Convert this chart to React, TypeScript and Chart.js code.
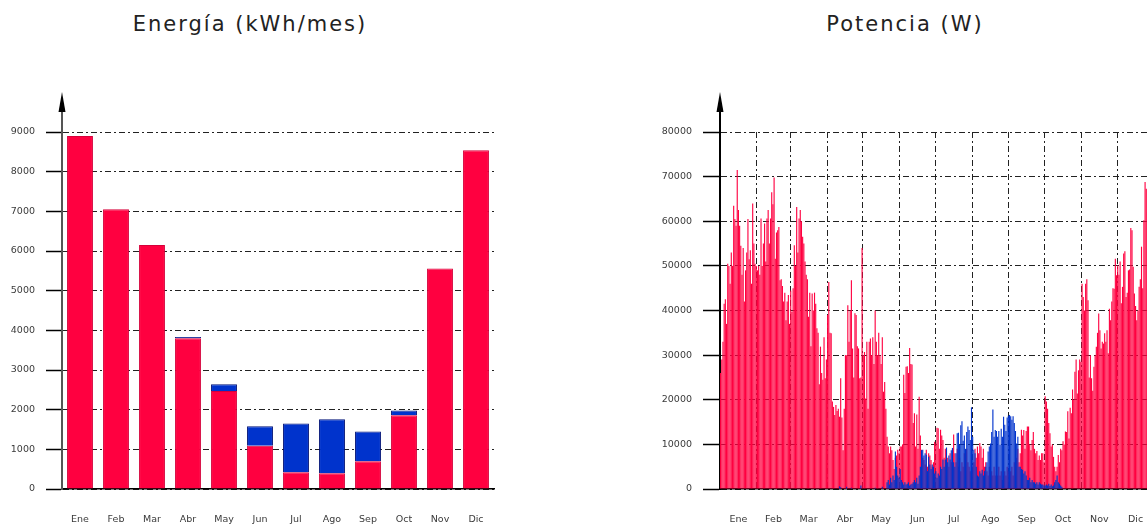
import React, { useEffect, useRef } from "react";
import { Chart, registerables } from "chart.js";

Chart.register(...registerables);

// ---------- data ----------
const months = ["Ene", "Feb", "Mar", "Abr", "May", "Jun", "Jul", "Ago", "Sep", "Oct", "Nov", "Dic"];
const energiaTitle = "Energía (kWh/mes)";
const potenciaTitle = "Potencia (W)";

// monthly energy (kWh/mes)
const energiaRed = [8900, 7050, 6150, 3800, 2470, 1090, 420, 395, 700, 1860, 5560, 8540];
const energiaBlue = [0, 0, 0, 30, 170, 490, 1230, 1365, 750, 120, 0, 0];
const energiaTicks = [0, 1000, 2000, 3000, 4000, 5000, 6000, 7000, 8000, 9000];

// days per month (calendar) for the power chart axis
const monthDays = [31, 28, 31, 30, 31, 30, 31, 31, 30, 31, 30, 31];
const potenciaTicks = [0, 10000, 20000, 30000, 40000, 50000, 60000, 70000, 80000];

// daily peak power (W), red series
const redEne = [26000, 29000, 33000, 41500, 42500, 37000, 50500, 50000, 46000, 53000, 50000, 63500, 60500, 59000, 71500, 62500, 59000, 54500, 48000, 54000, 42000, 49000, 53000, 60500, 51500, 53500, 46000, 64000, 55000, 50500, 50000];
const redFeb = [49000, 50000, 48000, 60600, 50000, 55000, 59500, 51000, 60600, 62500, 55000, 60600, 66500, 63800, 69800, 51600, 57500, 58000, 58700, 46800, 47000, 45500, 42000, 44000, 37800, 42000, 43500, 37000];
const redMar = [44500, 39700, 45000, 54600, 50000, 63200, 53000, 60600, 62500, 60000, 56500, 55000, 51000, 48000, 47000, 38600, 44000, 32000, 43800, 40000, 44000, 41500, 36000, 35000, 23500, 31900, 26000, 24500, 34000, 24800, 29000];
const redAbr = [39000, 46400, 35000, 34900, 19600, 18400, 16600, 18800, 17500, 18000, 16200, 24800, 16000, 8700, 18000, 30000, 30000, 41200, 33000, 40000, 46800, 31500, 25000, 39400, 39000, 32000, 31500, 24800, 25000, 54000];
const redMay = [30000, 30700, 20300, 33000, 18000, 33000, 33700, 30000, 34000, 28000, 40000, 33000, 30000, 35000, 30000, 28000, 34000, 21800, 24000, 18000, 11700, 9500, 8000, 9500, 8700, 6500, 4500, 7000, 7500, 8800, 8000];
const redJun = [9500, 9500, 10000, 25600, 21500, 27400, 27500, 26000, 31600, 28000, 27900, 14800, 17000, 9500, 16700, 9000, 20700, 12000, 8800, 7000, 6500, 5500, 8800, 5000, 8000, 7500, 6500, 5000, 6000, 10600];
const redJul = [10200, 13700, 13600, 9000, 13300, 12000, 11000, 7000, 9000, 6000, 7000, 5000, 8000, 6000, 9000, 12200, 8000, 6000, 9000, 5000, 7000, 4000, 6000, 5000, 8000, 4000, 9000, 6000, 5000, 4000, 6000];
const redAgo = [5000, 6000, 9000, 7000, 9500, 8000, 10300, 9500, 7000, 9000, 5000, 6000, 4000, 3000, 5000, 3000, 4000, 3000, 5000, 3000, 4000, 3000, 5000, 3000, 4000, 2000, 3000, 4000, 3000, 5000, 4000];
const redSep = [3000, 4000, 5000, 3000, 6000, 4000, 7000, 9000, 6000, 8000, 13300, 12000, 13200, 9000, 13000, 14000, 14000, 10000, 8700, 11000, 12800, 9000, 8000, 8500, 6500, 7500, 6500, 8000, 8000, 6000];
const redOct = [20800, 19600, 18000, 14800, 12500, 9500, 10000, 7200, 5000, 4000, 5000, 7600, 6000, 9000, 8700, 10700, 10000, 12900, 12800, 17400, 11300, 18200, 17000, 22300, 20000, 26300, 29000, 21400, 26600, 29000, 28500];
const redNov = [46000, 43000, 40000, 46000, 47000, 42300, 25000, 30000, 24800, 22000, 27400, 30000, 31900, 35000, 39300, 35600, 31500, 33000, 32600, 34900, 33000, 35600, 30400, 40400, 37800, 42000, 45000, 44900, 51600, 47900];
const redDic = [50100, 48000, 51000, 41600, 45300, 52800, 53300, 43000, 44000, 49000, 49200, 58500, 58000, 49800, 43800, 41000, 37800, 40000, 45300, 47000, 54300, 45000, 60200, 68800, 67300, 62000, 58000, 64000, 55000, 60000, 57000];

// daily peak power (W), blue series
const blueEne = [0, 0, 0, 0, 0, 0, 0, 0, 0, 0, 0, 0, 0, 0, 0, 0, 0, 0, 0, 0, 0, 0, 0, 0, 0, 0, 0, 0, 0, 0, 0];
const blueFeb = [0, 0, 0, 0, 0, 0, 0, 0, 0, 0, 0, 0, 0, 0, 0, 0, 0, 0, 0, 0, 0, 0, 0, 0, 0, 0, 0, 0];
const blueMar = [0, 0, 0, 0, 0, 0, 0, 0, 0, 0, 0, 0, 0, 0, 0, 0, 0, 0, 0, 0, 0, 0, 0, 0, 0, 0, 0, 0, 0, 0, 0];
const blueAbr = [0, 0, 0, 0, 0, 0, 0, 0, 0, 0, 600, 400, 0, 0, 0, 0, 500, 0, 0, 0, 300, 0, 0, 0, 0, 0, 0, 0, 800, 0];
const blueMay = [0, 0, 0, 0, 0, 0, 0, 0, 0, 0, 300, 0, 0, 0, 0, 0, 500, 0, 0, 0, 1500, 2000, 1000, 2500, 1500, 3000, 2000, 8400, 5000, 3000, 2500];
const blueJun = [4500, 2000, 1500, 1000, 1500, 1000, 1200, 1500, 800, 1000, 1200, 1500, 2000, 1500, 2500, 1200, 3000, 5000, 8700, 8800, 7500, 8000, 7700, 4000, 7200, 5500, 4500, 5500, 5000, 3500];
const blueJul = [4000, 2500, 3500, 3000, 5000, 4500, 6600, 5000, 6600, 9300, 6000, 7500, 6600, 8700, 9200, 6000, 5000, 8000, 12500, 12600, 10000, 14300, 15200, 10800, 12000, 9000, 12800, 14000, 13200, 11000, 18300];
const blueAgo = [11700, 8800, 8000, 5000, 3000, 2800, 4000, 3500, 4300, 3000, 4000, 5000, 6000, 8400, 9500, 10200, 12800, 17800, 11700, 13200, 13000, 11700, 13000, 9900, 13500, 11700, 16200, 14400, 13000, 16000, 16400];
const blueSep = [16600, 16300, 15500, 16300, 14800, 13000, 10200, 11700, 5000, 5000, 4500, 4300, 3500, 4000, 3000, 2000, 2000, 2500, 1500, 2000, 1500, 1500, 1200, 1500, 1000, 1500, 1200, 1000, 1000, 800];
const blueOct = [800, 1000, 800, 1200, 700, 1000, 600, 800, 1500, 2000, 3000, 1500, 1200, 800, 500, 0, 0, 0, 0, 0, 0, 0, 0, 0, 0, 0, 0, 0, 0, 0, 0];
const blueNov = [0, 0, 0, 0, 0, 0, 0, 0, 0, 0, 0, 0, 0, 0, 0, 0, 0, 0, 0, 0, 0, 0, 0, 0, 0, 0, 0, 0, 0, 0];
const blueDic = [0, 0, 0, 0, 0, 0, 0, 0, 0, 0, 0, 0, 0, 0, 0, 0, 0, 0, 0, 0, 0, 0, 0, 0, 0, 0, 0, 0, 0, 0, 0];

const powerRed = [...redEne, ...redFeb, ...redMar, ...redAbr, ...redMay, ...redJun, ...redJul, ...redAgo, ...redSep, ...redOct, ...redNov, ...redDic];
const powerBlue = [...blueEne, ...blueFeb, ...blueMar, ...blueAbr, ...blueMay, ...blueJun, ...blueJul, ...blueAgo, ...blueSep, ...blueOct, ...blueNov, ...blueDic];

// ---------- style ----------
const RED = "#FF0040";
const BLUE = "#0033CC";
const FONT = "'DejaVu Sans', sans-serif";
const TICK_FONT = { family: FONT, size: 9.5 };
const TICK_COLOR = "#3a3a3a";
const GRID_DASH = [6, 3, 2, 3];

const monthStarts: number[] = [0];
monthDays.forEach((d) => monthStarts.push(monthStarts[monthStarts.length - 1] + d));
const monthCenters = monthDays.map((d, i) => monthStarts[i] + d / 2);
const yearDays = monthStarts[monthStarts.length - 1];

const arrowPlugin = {
  id: "axisArrow",
  afterDraw(chart: any, _a: any, opts: any) {
    const { ctx, chartArea } = chart;
    const x = chartArea.left;
    ctx.save();
    ctx.setLineDash([]);
    ctx.strokeStyle = opts.color || "#000";
    ctx.lineWidth = opts.width || 2;
    ctx.beginPath();
    ctx.moveTo(x, chartArea.top);
    ctx.lineTo(x, 106);
    ctx.stroke();
    ctx.fillStyle = "#000";
    ctx.beginPath();
    ctx.moveTo(x, 92);
    ctx.lineTo(x - 3.5, 112);
    ctx.lineTo(x + 3.5, 112);
    ctx.closePath();
    ctx.fill();
    ctx.restore();
  },
};

function EnergyChart() {
  const ref = useRef<HTMLCanvasElement>(null);
  useEffect(() => {
    const chart = new Chart(ref.current!, {
      type: "bar",
      data: {
        labels: months,
        datasets: [
          { label: "red", data: energiaRed, backgroundColor: RED, borderColor: "#D6003A", borderWidth: 1, stack: "s" },
          { label: "blue", data: energiaBlue, backgroundColor: BLUE, borderColor: "#001277", borderWidth: 1, stack: "s" },
        ],
      },
      options: {
        animation: false,
        responsive: false,
        devicePixelRatio: 1,
        layout: { padding: { top: 132, left: 0, right: 79, bottom: 0 } },
        plugins: {
          legend: { display: false },
          tooltip: { enabled: false },
          axisArrow: { color: "#555", width: 2 },
        } as any,
        datasets: { bar: { categoryPercentage: 1, barPercentage: 0.72 } },
        scales: {
          x: {
            stacked: true,
            grid: { display: false, drawTicks: false },
            border: { display: true, color: "#000", width: 1.5 },
            ticks: { padding: 25, font: TICK_FONT, color: TICK_COLOR, maxRotation: 0, autoSkip: false },
            afterFit: (s: any) => {
              s.height = 37;
            },
          },
          y: {
            stacked: true,
            min: 0,
            max: energiaTicks[energiaTicks.length - 1],
            ticks: { padding: 11, font: TICK_FONT, color: TICK_COLOR, callback: (v: any) => String(v) },
            afterBuildTicks: (s: any) => {
              s.ticks = energiaTicks.map((v) => ({ value: v }));
            },
            grid: {
              color: "#222",
              lineWidth: 1,
              tickLength: 16,
              tickColor: "#000",
              tickWidth: 1.5,
              tickBorderDash: [],
            },
            border: { color: "#555", width: 2, dash: GRID_DASH },
            afterFit: (s: any) => {
              s.width = 62;
            },
          },
        },
      } as any,
      plugins: [arrowPlugin],
    });
    return () => chart.destroy();
  }, []);
  return <canvas ref={ref} width={573} height={526} style={{ position: "absolute", left: 0, top: 0 }} />;
}

function PowerChart() {
  const ref = useRef<HTMLCanvasElement>(null);
  useEffect(() => {
    const chart = new Chart(ref.current!, {
      type: "bar",
      data: {
        datasets: [
          { label: "blue", data: powerBlue.map((v, i) => ({ x: i + 0.5, y: v })), backgroundColor: BLUE, order: 0 },
          { label: "red", data: powerRed.map((v, i) => ({ x: i + 0.5, y: v })), backgroundColor: RED, order: 1 },
        ],
      },
      options: {
        animation: false,
        responsive: false,
        devicePixelRatio: 1,
        layout: { padding: { top: 132, left: 87, right: 19, bottom: 0 } },
        plugins: {
          legend: { display: false },
          tooltip: { enabled: false },
          axisArrow: { color: "#000", width: 2 },
        } as any,
        datasets: { bar: { categoryPercentage: 1, barPercentage: 0.95, grouped: false, borderWidth: 0 } },
        scales: {
          x: {
            type: "linear",
            min: 0,
            max: yearDays,
            offset: false,
            grid: { offset: false, color: "#222", lineWidth: 1, drawTicks: false },
            ticks: { display: false },
            border: { display: true, color: "#000", width: 1.5, dash: GRID_DASH },
            afterBuildTicks: (s: any) => {
              s.ticks = monthStarts.map((v) => ({ value: v }));
            },
            afterFit: (s: any) => {
              s.height = 0;
            },
          },
          xl: {
            type: "linear",
            position: "bottom",
            min: 0,
            max: yearDays,
            offset: false,
            grid: { display: false, drawTicks: false, offset: false },
            border: { display: false },
            ticks: {
              padding: 25,
              autoSkip: false,
              maxRotation: 0,
              font: TICK_FONT,
              color: TICK_COLOR,
              callback: (_v: any, i: number) => months[i],
            },
            afterBuildTicks: (s: any) => {
              s.ticks = monthCenters.map((v) => ({ value: v }));
            },
            afterFit: (s: any) => {
              s.height = 37;
            },
          },
          y: {
            min: 0,
            max: potenciaTicks[potenciaTicks.length - 1],
            ticks: { padding: 11, font: TICK_FONT, color: TICK_COLOR, callback: (v: any) => String(v) },
            afterBuildTicks: (s: any) => {
              s.ticks = potenciaTicks.map((v) => ({ value: v }));
            },
            grid: {
              color: "#222",
              lineWidth: 1,
              tickLength: 17,
              tickColor: "#000",
              tickWidth: 1.5,
              tickBorderDash: [],
            },
            border: { color: "#000", width: 2, dash: GRID_DASH },
            afterFit: (s: any) => {
              s.width = 60;
            },
          },
        },
      } as any,
      plugins: [arrowPlugin],
    });
    return () => chart.destroy();
  }, []);
  return <canvas ref={ref} width={600} height={526} style={{ position: "absolute", left: 573, top: 0 }} />;
}

const titleStyle: React.CSSProperties = {
  position: "absolute",
  top: 12,
  textAlign: "center",
  fontFamily: FONT,
  fontSize: 21,
  lineHeight: "25px",
  letterSpacing: "2px",
  color: "#222",
  whiteSpace: "nowrap",
};

export default function App() {
  return (
    <div
      style={{
        position: "fixed",
        left: 0,
        top: 0,
        width: 1147,
        height: 526,
        overflow: "hidden",
        background: "#fff",
      }}
    >
      <div style={{ ...titleStyle, left: 1, width: 498 }}>{energiaTitle}</div>
      <div style={{ ...titleStyle, left: 705, width: 400 }}>{potenciaTitle}</div>
      <EnergyChart />
      <PowerChart />
    </div>
  );
}
